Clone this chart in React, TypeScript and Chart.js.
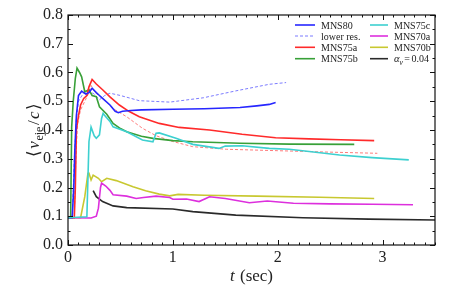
import { useEffect, useRef } from "react";
import { Chart, registerables } from "chart.js";

Chart.register(...registerables);

// ---------------- data ----------------
const xTickValues = [0, 1, 2, 3];
const yTickValues = [0, 0.1, 0.2, 0.3, 0.4, 0.5, 0.6, 0.7, 0.8];

const mns80T = [0, 0.04, 0.055, 0.065, 0.08, 0.1, 0.13, 0.17, 0.2, 0.23, 0.27, 0.3, 0.33, 0.4, 0.45, 0.48, 0.52, 0.6, 0.7, 1.0, 1.3, 1.64, 1.8, 1.92, 1.98];
const mns80V = [0.095, 0.095, 0.2, 0.33, 0.45, 0.52, 0.535, 0.525, 0.53, 0.545, 0.53, 0.52, 0.51, 0.487, 0.465, 0.46, 0.465, 0.468, 0.47, 0.472, 0.474, 0.478, 0.484, 0.489, 0.496];

const lowResT = [0, 0.04, 0.06, 0.08, 0.1, 0.15, 0.2, 0.25, 0.3, 0.35, 0.4, 0.5, 0.68, 0.97, 1.29, 1.6, 1.92, 2.08];
const lowResV = [0.095, 0.095, 0.3, 0.44, 0.5, 0.53, 0.535, 0.525, 0.505, 0.52, 0.528, 0.52, 0.502, 0.497, 0.512, 0.536, 0.559, 0.565];

const mns75aT = [0, 0.06, 0.07, 0.08, 0.1, 0.12, 0.15, 0.18, 0.2, 0.23, 0.27, 0.33, 0.4, 0.49, 0.58, 0.68, 0.87, 1.06, 1.35, 1.66, 1.98, 2.3, 2.6, 2.92];
const mns75aV = [0.095, 0.095, 0.2, 0.4, 0.45, 0.487, 0.51, 0.52, 0.55, 0.576, 0.56, 0.54, 0.515, 0.487, 0.465, 0.446, 0.423, 0.409, 0.4, 0.385, 0.373, 0.369, 0.366, 0.363];

const mns75aLowT = [0, 0.06, 0.075, 0.09, 0.12, 0.16, 0.2, 0.22, 0.26, 0.33, 0.45, 0.56, 0.71, 0.84, 1.0, 1.19, 1.51, 2.0, 2.5, 2.95];
const mns75aLowV = [0.095, 0.095, 0.3, 0.42, 0.47, 0.5, 0.53, 0.555, 0.53, 0.51, 0.47, 0.446, 0.406, 0.38, 0.36, 0.342, 0.333, 0.328, 0.323, 0.319];

const mns75bT = [0, 0.025, 0.035, 0.05, 0.07, 0.086, 0.11, 0.13, 0.16, 0.2, 0.23, 0.27, 0.3, 0.37, 0.43, 0.5, 0.56, 0.7, 0.81, 1.0, 1.19, 1.64, 2.11, 2.73];
const mns75bV = [0.095, 0.095, 0.41, 0.5, 0.58, 0.615, 0.6, 0.585, 0.533, 0.54, 0.52, 0.516, 0.481, 0.455, 0.423, 0.405, 0.394, 0.378, 0.371, 0.363, 0.359, 0.354, 0.351, 0.35];

const mns75cT = [0, 0.18, 0.2, 0.22, 0.25, 0.27, 0.3, 0.32, 0.335, 0.35, 0.4, 0.43, 0.56, 0.71, 0.81, 0.84, 0.87, 1.03, 1.19, 1.44, 1.5, 1.66, 1.92, 2.11, 2.3, 2.59, 2.9, 3.25];
const mns75cV = [0.095, 0.098, 0.36, 0.41, 0.38, 0.371, 0.383, 0.44, 0.458, 0.45, 0.43, 0.411, 0.394, 0.365, 0.359, 0.389, 0.39, 0.371, 0.35, 0.336, 0.344, 0.345, 0.336, 0.333, 0.325, 0.313, 0.304, 0.296];

const mns70aT = [0, 0.22, 0.27, 0.29, 0.31, 0.32, 0.36, 0.4, 0.43, 0.56, 0.65, 0.72, 0.84, 0.97, 1.0, 1.13, 1.25, 1.35, 1.5, 1.73, 1.9, 2.15, 2.5, 2.9, 3.29];
const mns70aV = [0.095, 0.094, 0.1, 0.128, 0.2, 0.215, 0.205, 0.19, 0.175, 0.17, 0.162, 0.165, 0.17, 0.165, 0.159, 0.16, 0.151, 0.168, 0.162, 0.147, 0.153, 0.145, 0.143, 0.142, 0.14];

const mns70bT = [0, 0.12, 0.16, 0.19, 0.2, 0.22, 0.24, 0.29, 0.32, 0.37, 0.46, 0.62, 0.74, 0.87, 0.97, 1.05, 1.3, 1.8, 2.4, 2.92];
const mns70bV = [0.095, 0.095, 0.168, 0.249, 0.25, 0.226, 0.243, 0.232, 0.22, 0.232, 0.224, 0.203, 0.189, 0.177, 0.171, 0.176, 0.173, 0.17, 0.166, 0.162];

const alphaT = [0.24, 0.27, 0.33, 0.43, 0.56, 1.0, 1.19, 1.6, 2.24, 2.87, 3.5];
const alphaV = [0.189, 0.168, 0.151, 0.136, 0.13, 0.125, 0.116, 0.104, 0.095, 0.09, 0.087];

const seriesLabels = ["MNS80", "lower res.", "MNS75a", "MNS75b", "MNS75c", "MNS70a", "MNS70b", "αv = 0.04", "MNS75a lower res."];

// ---------------- helpers ----------------
const SERIF = "'Liberation Serif'";
const pts = (t: number[], v: number[]) => t.map((x, i) => ({ x, y: v[i] }));

type Seg = { text: string; size: number; italic?: boolean; dy?: number; gap?: number };

function segWidth(ctx: CanvasRenderingContext2D, segs: Seg[]) {
  let w = 0;
  for (const s of segs) {
    ctx.font = `${s.italic ? "italic " : ""}${s.size}px ${SERIF}`;
    w += ctx.measureText(s.text).width + (s.gap || 0);
  }
  return w;
}

function drawSegs(ctx: CanvasRenderingContext2D, segs: Seg[], x: number, y: number) {
  let cx = x;
  ctx.textBaseline = "alphabetic";
  ctx.textAlign = "left";
  for (const s of segs) {
    ctx.font = `${s.italic ? "italic " : ""}${s.size}px ${SERIF}`;
    ctx.fillText(s.text, cx, y + (s.dy || 0));
    cx += ctx.measureText(s.text).width + (s.gap || 0);
  }
}

const legendRich: Record<string, Seg[]> = {
  "αv = 0.04": [
    { text: "α", size: 10.5, italic: true },
    { text: "v", size: 7.5, italic: true, dy: 2.5, gap: 1.5 },
    { text: "=", size: 10, gap: 1.5 },
    { text: "0.04", size: 10 },
  ],
};

const legendLayout = [
  { ds: 0, col: 0, row: 0 },
  { ds: 1, col: 0, row: 1 },
  { ds: 2, col: 0, row: 2 },
  { ds: 3, col: 0, row: 3 },
  { ds: 4, col: 1, row: 0 },
  { ds: 5, col: 1, row: 1 },
  { ds: 6, col: 1, row: 2 },
  { ds: 7, col: 1, row: 3 },
];

const framePlugin = {
  id: "frameTicksTitles",
  afterDraw(chart: any) {
    const ctx: CanvasRenderingContext2D = chart.ctx;
    const { left, right, top, bottom } = chart.chartArea;
    const xs = chart.scales.x;
    const ys = chart.scales.y;
    ctx.save();
    ctx.strokeStyle = "#111";
    ctx.lineWidth = 1.2;
    ctx.strokeRect(left, top, right - left, bottom - top);
    ctx.lineWidth = 1;
    for (let i = 0; i <= 35; i++) {
      const v = i / 10;
      const px = Math.round(xs.getPixelForValue(v)) + 0.5;
      const len = i % 10 === 0 ? 5 : 2.5;
      ctx.beginPath();
      ctx.moveTo(px, bottom);
      ctx.lineTo(px, bottom - len);
      ctx.moveTo(px, top);
      ctx.lineTo(px, top + len);
      ctx.stroke();
    }
    for (let i = 0; i <= 16; i++) {
      const v = i * 0.05;
      const py = Math.round(ys.getPixelForValue(v)) + 0.5;
      const len = i % 2 === 0 ? 5 : 2.5;
      ctx.beginPath();
      ctx.moveTo(left, py);
      ctx.lineTo(left + len, py);
      ctx.moveTo(right, py);
      ctx.lineTo(right - len, py);
      ctx.stroke();
    }

    // legend
    const colX = [295, 370];
    const sampleLen = [20, 18];
    const textX = [321, 394];
    const rowY = [25, 36, 47.3, 58.7];
    for (const it of legendLayout) {
      const ds = chart.data.datasets[it.ds];
      const y = rowY[it.row];
      ctx.strokeStyle = ds.borderColor;
      ctx.lineWidth = ds.borderWidth;
      ctx.setLineDash(ds.borderDash || []);
      ctx.beginPath();
      ctx.moveTo(colX[it.col], y);
      ctx.lineTo(colX[it.col] + sampleLen[it.col], y);
      ctx.stroke();
      ctx.setLineDash([]);
      ctx.fillStyle = "#222";
      const segs = legendRich[ds.label] || [{ text: ds.label, size: 10 }];
      drawSegs(ctx, segs, textX[it.col], y + 3.5);
    }

    // x title
    ctx.fillStyle = "#222";
    const xt: Seg[] = [
      { text: "t", size: 17, italic: true, gap: 1 },
      { text: " (sec)", size: 17 },
    ];
    const xw = segWidth(ctx, xt);
    drawSegs(ctx, xt, (left + right) / 2 - xw / 2, 281);

    // y title
    const yt: Seg[] = [
      { text: "⟨", size: 17, gap: 1.5 },
      { text: "v", size: 17, italic: true, gap: 0.5 },
      { text: "eje", size: 12, dy: 3.5, gap: 1.5 },
      { text: "/", size: 17, gap: 1.5 },
      { text: "c", size: 17, italic: true, gap: 1.5 },
      { text: "⟩", size: 17 },
    ];
    const yw = segWidth(ctx, yt);
    ctx.translate(39, (top + bottom) / 2);
    ctx.rotate(-Math.PI / 2);
    drawSegs(ctx, yt, -yw / 2, 0);
    ctx.restore();
  },
};

export default function App() {
  const ref = useRef<HTMLCanvasElement | null>(null);
  useEffect(() => {
    document.body.style.margin = "0";
    const base = { pointRadius: 0, fill: false, tension: 0, borderWidth: 1.6 };
    const chart = new Chart(ref.current as HTMLCanvasElement, {
      type: "line",
      data: {
        datasets: [
          { ...base, label: seriesLabels[0], data: pts(mns80T, mns80V), borderColor: "#2626ff", order: 2 },
          { ...base, label: seriesLabels[1], data: pts(lowResT, lowResV), borderColor: "#7b7bff", borderWidth: 1, borderDash: [3, 2], order: 3 },
          { ...base, label: seriesLabels[2], data: pts(mns75aT, mns75aV), borderColor: "#ff2a2a", order: 2 },
          { ...base, label: seriesLabels[3], data: pts(mns75bT, mns75bV), borderColor: "#38a038", order: 2 },
          { ...base, label: seriesLabels[4], data: pts(mns75cT, mns75cV), borderColor: "#3dd0d0", order: 1 },
          { ...base, label: seriesLabels[5], data: pts(mns70aT, mns70aV), borderColor: "#dd2fdd", order: 2 },
          { ...base, label: seriesLabels[6], data: pts(mns70bT, mns70bV), borderColor: "#c8c830", order: 2 },
          { ...base, label: seriesLabels[7], data: pts(alphaT, alphaV), borderColor: "#2a2a2a", order: 2 },
          { ...base, label: seriesLabels[8], data: pts(mns75aLowT, mns75aLowV), borderColor: "#ff7a7a", borderWidth: 1, borderDash: [3, 2], order: 3 },
        ] as any,
      },
      options: {
        animation: false,
        responsive: false,
        devicePixelRatio: 1,
        layout: { padding: { top: 15, right: 23, left: 0, bottom: 0 } },
        plugins: { legend: { display: false }, tooltip: { enabled: false } },
        scales: {
          x: {
            type: "linear",
            min: 0,
            max: 3.5,
            grid: { display: false, drawTicks: false },
            border: { display: false },
            afterBuildTicks: (s: any) => {
              s.ticks = xTickValues.map((value) => ({ value }));
            },
            afterFit: (s: any) => {
              s.height = 41;
            },
            ticks: {
              padding: 3,
              maxRotation: 0,
              color: "#222",
              font: { family: SERIF, size: 16 },
              callback: (v: any) => String(v),
            },
          },
          y: {
            type: "linear",
            min: 0,
            max: 0.8,
            grid: { display: false, drawTicks: false },
            border: { display: false },
            afterBuildTicks: (s: any) => {
              s.ticks = yTickValues.map((value) => ({ value }));
            },
            afterFit: (s: any) => {
              s.width = 68;
            },
            ticks: {
              padding: 5,
              color: "#222",
              font: { family: SERIF, size: 16 },
              callback: (v: any) => Number(v).toFixed(1),
            },
          },
        },
      },
      plugins: [framePlugin],
    } as any);
    return () => chart.destroy();
  }, []);
  return (
    <div style={{ width: 458, height: 286 }}>
      <canvas ref={ref} width={458} height={286} style={{ display: "block" }} />
    </div>
  );
}
